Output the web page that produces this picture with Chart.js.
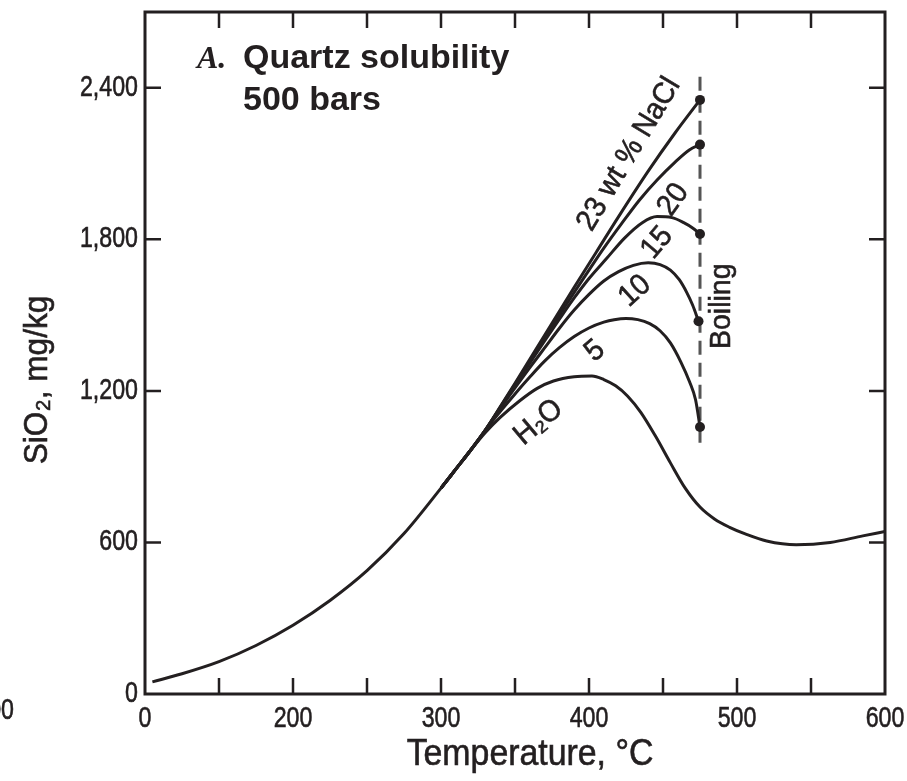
<!DOCTYPE html>
<html>
<head>
<meta charset="utf-8">
<script src="https://cdn.jsdelivr.net/npm/chart.js@4.4.1/dist/chart.umd.min.js"></script>
<style>
  html, body { margin: 0; padding: 0; background: #fff; }
  #wrap { width: 907px; height: 781px; }
</style>
</head>
<body>
<div id="wrap"><canvas id="grafico" width="907" height="781"></canvas></div>
<script>
// temperatura (°C) e solubilidade (mg/kg)
const h2oT = [105, 125, 150, 175, 200, 225, 250, 275, 300, 310, 320, 330, 340, 353, 365, 376, 390, 402, 410, 418, 426, 435, 445, 455, 465, 475, 485, 495, 506, 520, 540, 563, 585, 600];
const h2oV = [48, 80, 128, 192, 272, 370, 488, 635, 815, 890, 965, 1035, 1095, 1160, 1210, 1239, 1256, 1259, 1245, 1220, 1180, 1115, 1020, 915, 815, 740, 692, 660, 633, 606, 591, 600, 626, 643];

const nacl5T = [300, 310, 320, 330, 340, 350, 360, 370, 380, 390, 400, 410, 417, 425, 433, 441, 448, 455, 462, 468, 472, 475];
const nacl5V = [815, 890, 965, 1045, 1118, 1188, 1255, 1318, 1371, 1415, 1449, 1472, 1482, 1487, 1482, 1466, 1438, 1390, 1315, 1235, 1165, 1057];

const nacl10T = [300, 310, 320, 330, 340, 350, 360, 370, 380, 390, 400, 410, 420, 430, 440, 448, 455, 461, 466, 470, 474];
const nacl10V = [815, 890, 965, 1045, 1130, 1212, 1292, 1370, 1448, 1520, 1582, 1635, 1672, 1697, 1707, 1700, 1678, 1640, 1590, 1540, 1476];

const nacl15T = [300, 310, 320, 330, 340, 350, 360, 370, 380, 390, 400, 412, 424, 436, 446, 456, 464, 470, 475];
const nacl15V = [815, 890, 965, 1045, 1133, 1222, 1310, 1398, 1484, 1568, 1645, 1725, 1805, 1866, 1890, 1886, 1866, 1845, 1821];

const nacl20T = [300, 310, 320, 330, 340, 350, 360, 370, 380, 390, 400, 410, 422, 434, 446, 458, 468, 475];
const nacl20V = [815, 890, 965, 1045, 1135, 1226, 1318, 1410, 1500, 1590, 1678, 1765, 1862, 1955, 2035, 2105, 2155, 2175];

const nacl23T = [300, 310, 320, 330, 340, 350, 360, 370, 380, 390, 405, 420, 440, 458, 475];
const nacl23V = [815, 890, 965, 1045, 1137, 1230, 1325, 1420, 1515, 1610, 1750, 1890, 2070, 2220, 2352];

const boilT = [475, 475];
const boilV = [995, 2470];

const xTickVals = [100, 150, 200, 250, 300, 350, 400, 450, 500, 550, 600];
const xTickLabels = { 100: '0', 200: '200', 300: '300', 400: '400', 500: '500', 600: '600' };
const yTickVals = [0, 600, 1200, 1800, 2400];
const yTickLabels = { 0: '0', 600: '600', 1200: '1,200', 1800: '1,800', 2400: '2,400' };

// rótulos das curvas: texto, posição (T, SiO2) e ângulo
const curveLabels = ['23 wt % NaCl', '20', '15', '10', '5', 'H₂O', 'Boiling'];
const labelT = [427, 457, 446, 431, 404, 366, 490];
const labelV = [2137, 1957, 1786, 1595, 1358, 1075, 1535];
const labelAngle = [-59, -55, -50, -42, -40, -40, -90];

const ink = '#231f20';
const sans = "'Liberation Sans', Arial, sans-serif";

function curva(label, T, V, ponto) {
    return {
        label: label,
        data: T.map((t, i) => ({ x: t, y: V[i] })),
        borderColor: ink,
        borderWidth: 3,
        pointRadius: c => (ponto && c.dataIndex === T.length - 1) ? 5 : 0,
        pointBackgroundColor: ink,
        pointBorderWidth: 0,
        cubicInterpolationMode: 'monotone',
        fill: false,
        order: 1
    };
}

// texto com rotação, compressão horizontal (fonte condensada) e traço extra
function texto(ctx, txt, x, y, angulo, sx, align, peso) {
    ctx.save();
    ctx.translate(x, y);
    ctx.rotate(angulo * Math.PI / 180);
    ctx.scale(sx, 1);
    ctx.textAlign = align;
    ctx.fillText(txt, 0, 0);
    if (peso) {
        ctx.lineWidth = peso;
        ctx.strokeText(txt, 0, 0);
    }
    ctx.restore();
}

// moldura, marcas internas e textos
const moldura = {
    id: 'moldura',
    afterDraw(chart) {
        const { ctx, chartArea: { left, right, top, bottom }, scales: { x, y } } = chart;
        ctx.save();
        ctx.strokeStyle = ink;
        ctx.lineWidth = 3;
        ctx.strokeRect(left, top, right - left, bottom - top);

        ctx.lineWidth = 2.5;
        const tl = 16;
        x.ticks.forEach(t => {
            const px = x.getPixelForValue(t.value);
            if (px <= left + 2 || px >= right - 2) return;
            ctx.beginPath();
            ctx.moveTo(px, bottom); ctx.lineTo(px, bottom - tl);
            ctx.moveTo(px, top); ctx.lineTo(px, top + tl);
            ctx.stroke();
        });
        y.ticks.forEach(t => {
            const py = y.getPixelForValue(t.value);
            if (py >= bottom - 2 || py <= top + 2) return;
            ctx.beginPath();
            ctx.moveTo(left, py); ctx.lineTo(left + tl, py);
            ctx.moveTo(right, py); ctx.lineTo(right - tl, py);
            ctx.stroke();
        });

        ctx.fillStyle = ink;
        ctx.textBaseline = 'middle';

        // números dos eixos
        ctx.font = '29px ' + sans;
        x.ticks.forEach(t => {
            const lab = xTickLabels[t.value];
            if (lab) texto(ctx, lab, x.getPixelForValue(t.value), bottom + 25, 0, 0.8, 'center', 0.6);
        });
        y.ticks.forEach(t => {
            const lab = yTickLabels[t.value];
            if (lab) texto(ctx, lab, left - 7, y.getPixelForValue(t.value), 0, 0.8, 'right', 0.6);
        });

        // rótulos das curvas
        ctx.font = '30px ' + sans;
        curveLabels.forEach((txt, i) => {
            texto(ctx, txt, x.getPixelForValue(labelT[i]), y.getPixelForValue(labelV[i]), labelAngle[i], 0.95, 'center', 0.6);
        });

        // título do painel
        ctx.textBaseline = 'alphabetic';
        ctx.font = 'italic bold 32px "Liberation Serif", serif';
        texto(ctx, 'A.', left + 52, top + 56, 0, 1, 'left');
        ctx.font = 'bold 34px ' + sans;
        texto(ctx, 'Quartz solubility', left + 98, top + 56, 0, 1, 'left');
        texto(ctx, '500 bars', left + 98, top + 98, 0, 1, 'left');

        // títulos dos eixos
        ctx.textBaseline = 'middle';
        ctx.font = '36px ' + sans;
        texto(ctx, 'Temperature, °C', 530, 755, 0, 0.94, 'center', 0.6);
        ctx.font = '34px ' + sans;
        texto(ctx, 'SiO₂, mg/kg', 38, 380, -90, 0.93, 'center', 0.6);

        // resto do painel vizinho, cortado
        ctx.font = '29px ' + sans;
        texto(ctx, '00', 14, 711, 0, 0.8, 'right', 0.6);
        ctx.restore();
    }
};

const ctx = document.getElementById('grafico').getContext('2d');
const grafico = new Chart(ctx, {
    type: 'line',
    data: {
        datasets: [
            curva('H2O', h2oT, h2oV, false),
            curva('5', nacl5T, nacl5V, true),
            curva('10', nacl10T, nacl10V, true),
            curva('15', nacl15T, nacl15V, true),
            curva('20', nacl20T, nacl20V, true),
            curva('23', nacl23T, nacl23V, true),
            {
                label: 'Boiling',
                data: boilT.map((t, i) => ({ x: t, y: boilV[i] })),
                borderColor: '#555',
                borderWidth: 3,
                borderDash: [14, 8],
                pointRadius: 0,
                fill: false,
                order: 2
            }
        ]
    },
    options: {
        responsive: false,
        animation: false,
        layout: { padding: { top: 12, right: 22, left: 0, bottom: 0 } },
        plugins: {
            legend: { display: false },
            tooltip: { enabled: false }
        },
        scales: {
            x: {
                type: 'linear',
                min: 100,
                max: 600,
                afterBuildTicks: s => { s.ticks = xTickVals.map(v => ({ value: v })); },
                afterFit: s => { s.height = 87; s.paddingLeft = 0; s.paddingRight = 0; },
                grid: { display: false, drawTicks: false },
                border: { display: false },
                ticks: { display: false }
            },
            y: {
                min: 0,
                max: 2700,
                afterBuildTicks: s => { s.ticks = yTickVals.map(v => ({ value: v })); },
                afterFit: s => { s.width = 145; s.paddingTop = 0; s.paddingBottom = 0; },
                grid: { display: false, drawTicks: false },
                border: { display: false },
                ticks: { display: false }
            }
        }
    },
    plugins: [moldura]
});
</script>
</body>
</html>
